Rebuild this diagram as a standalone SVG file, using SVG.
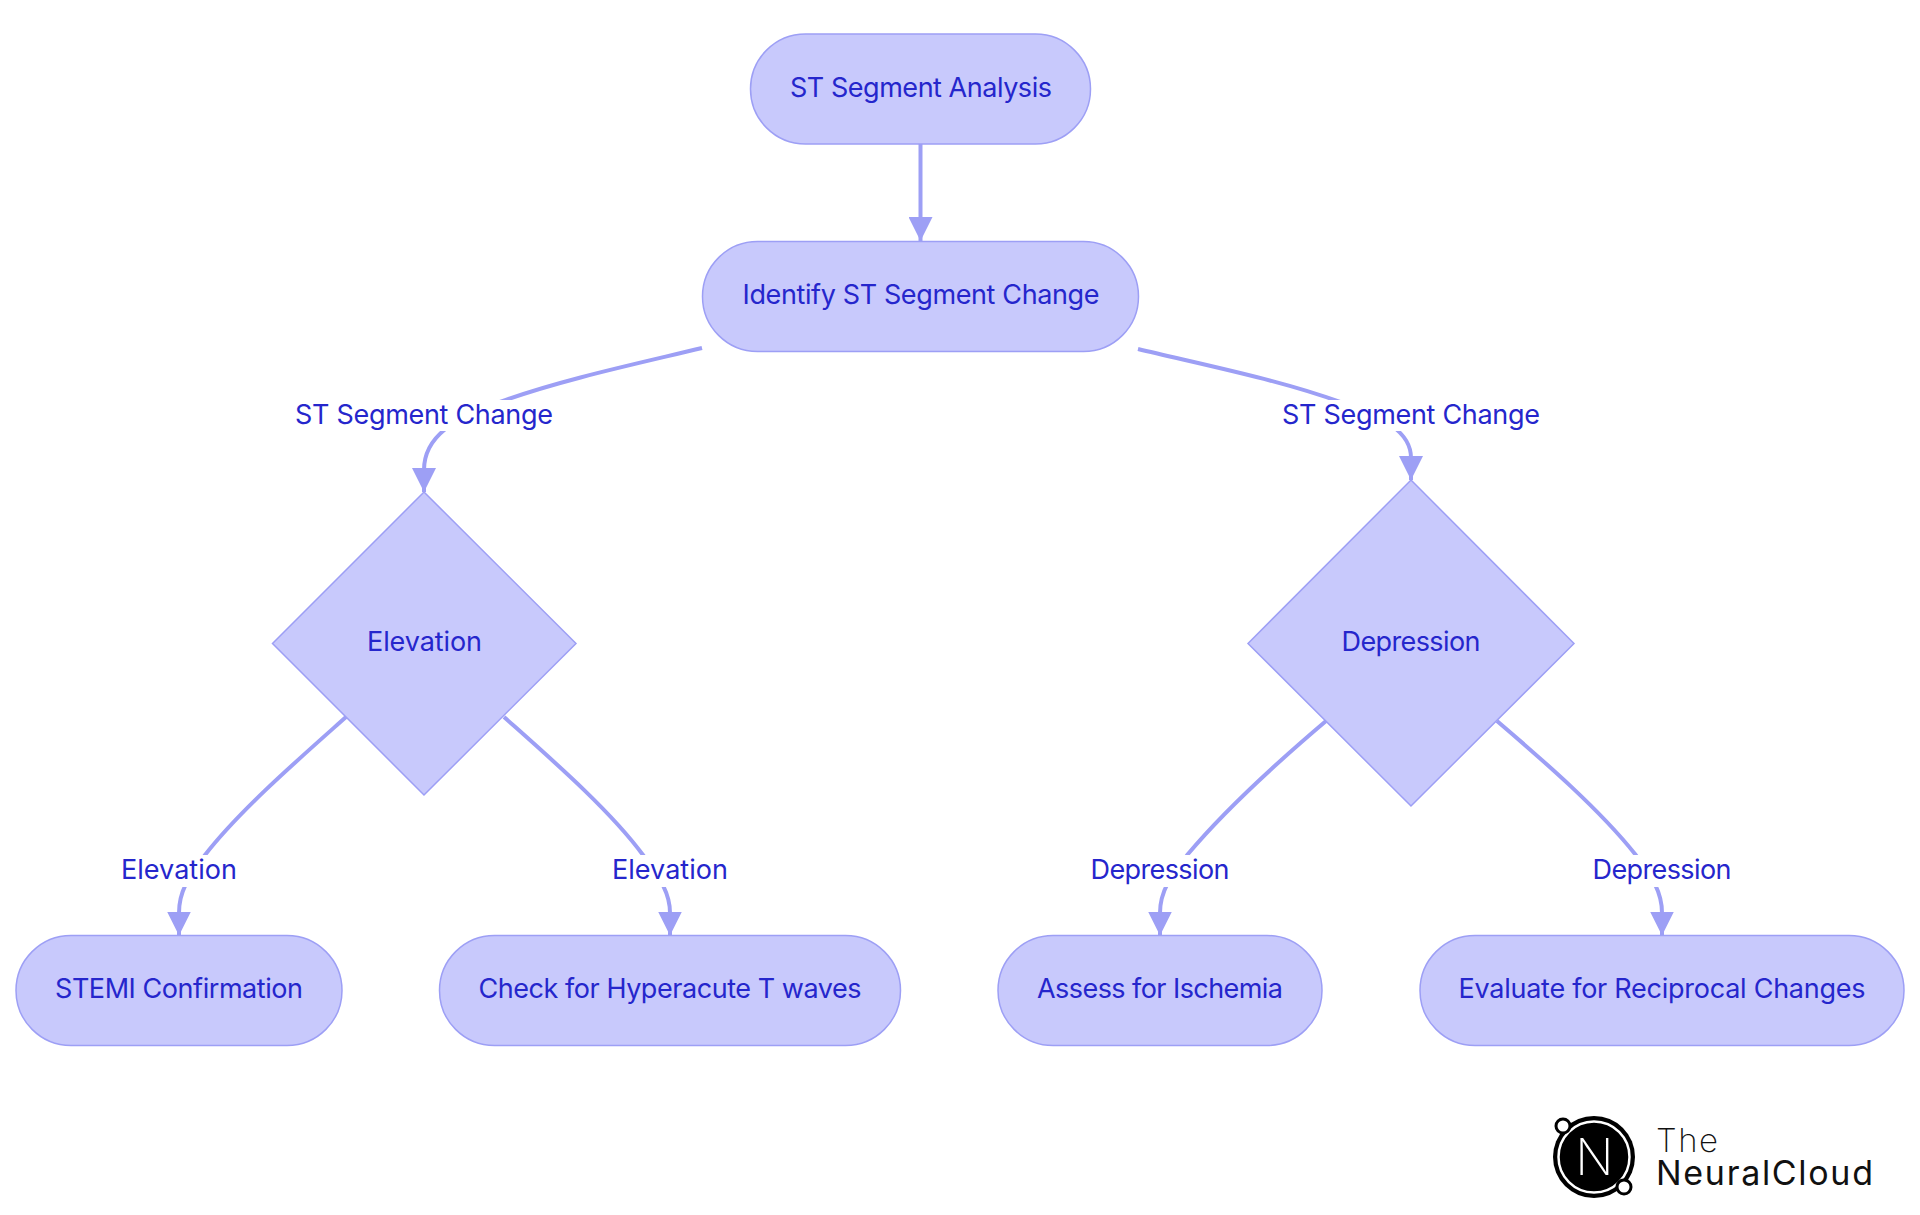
<svg xmlns="http://www.w3.org/2000/svg" width="1920" height="1215" viewBox="0 0 1920 1215">
<style>
.n{fill:#c8c9fc;stroke:#9d9ff5;stroke-width:1.5}
.t{font-family:"Inter","Noto Sans",sans-serif;font-size:27px;fill:#2526cc;text-anchor:middle;font-weight:380}
.e{fill:none;stroke:#9d9ff5;stroke-width:4}
.bg{fill:#fff}
.lg{font-family:"Inter","Lato",sans-serif;fill:#111}
</style>
<defs><marker id="a" markerUnits="userSpaceOnUse" markerWidth="24" markerHeight="24" refX="24" refY="12" orient="auto"><path d="M0,0L24,12L0,24z" fill="#9d9ff5"/></marker></defs>
<rect width="1920" height="1215" fill="#fff"/>
<g id="connectors">
<path class="e" marker-end="url(#a)" d="M920.500,144V241"/>
<path class="e" marker-end="url(#a)" d="M702,348C640,363 560,380 500,402C455,418 424,436 424,470L424,492"/>
<path class="e" marker-end="url(#a)" d="M1138,349C1200,364 1280,380 1340,402C1385,418 1411,432 1411,458L1411,480"/>
<path class="e" marker-end="url(#a)" d="M346,717C300,758 240,810 205,855C190,876 179,890 179,913L179,935.500"/>
<path class="e" marker-end="url(#a)" d="M504,717C550,758 610,810 643,855C656,874 670,890 670,913L670,935.500"/>
<path class="e" marker-end="url(#a)" d="M1326,721C1280,760 1225,810 1188,854C1172,875 1160,890 1160,913L1160,935.500"/>
<path class="e" marker-end="url(#a)" d="M1497,721C1545,762 1600,810 1635,854C1650,875 1662,890 1662,913L1662,935.500"/>
</g>
<g id="edge-labels">
<rect class="bg" x="295" y="400" width="258" height="31"/><text class="t" x="424" y="424" textLength="258">ST Segment Change</text>
<rect class="bg" x="1282" y="400" width="258" height="31"/><text class="t" x="1411" y="424" textLength="258">ST Segment Change</text>
<rect class="bg" x="121" y="855" width="116" height="32"/><text class="t" x="179" y="879" textLength="116">Elevation</text>
<rect class="bg" x="612" y="855" width="116" height="32"/><text class="t" x="670" y="879" textLength="116">Elevation</text>
<rect class="bg" x="1091" y="855" width="139" height="32"/><text class="t" x="1160" y="879" textLength="139">Depression</text>
<rect class="bg" x="1593" y="855" width="139" height="32"/><text class="t" x="1662" y="879" textLength="139">Depression</text>
</g>
<g id="n-root"><rect class="n" x="750.500" y="34" width="340" height="110" rx="55"/><text class="t" x="921" y="97" textLength="262">ST Segment Analysis</text></g>
<g id="n-identify"><rect class="n" x="702.500" y="241.500" width="436" height="110" rx="55"/><text class="t" x="921" y="304" textLength="357">Identify ST Segment Change</text></g>
<g id="n-elevation"><path class="n" d="M424,492L576,643.500L424,795L272.500,643.500z"/><text class="t" x="424.500" y="651" textLength="115">Elevation</text></g>
<g id="n-depression"><path class="n" d="M1411,480L1574,643.500L1411,806L1248,643.500z"/><text class="t" x="1411" y="651" textLength="139">Depression</text></g>
<g id="n-stemi"><rect class="n" x="16" y="935.500" width="326" height="110" rx="55"/><text class="t" x="179" y="998" textLength="248">STEMI Confirmation</text></g>
<g id="n-hyper"><rect class="n" x="439.500" y="935.500" width="461" height="110" rx="55"/><text class="t" x="670" y="998" textLength="383">Check for Hyperacute T waves</text></g>
<g id="n-ischemia"><rect class="n" x="998" y="935.500" width="324" height="110" rx="55"/><text class="t" x="1160" y="998" textLength="246">Assess for Ischemia</text></g>
<g id="n-reciprocal"><rect class="n" x="1420" y="935.500" width="484" height="110" rx="55"/><text class="t" x="1662" y="998" textLength="407">Evaluate for Reciprocal Changes</text></g>
<g id="logo">
<circle cx="1594" cy="1157" r="41" fill="#000"/>
<circle cx="1594" cy="1157" r="35.500" fill="#000" stroke="#fff" stroke-width="2.500"/>
<circle cx="1563" cy="1126" r="7" fill="#fff" stroke="#000" stroke-width="3"/>
<circle cx="1624" cy="1187" r="7" fill="#fff" stroke="#000" stroke-width="3"/>
<text x="1594.500" y="1175" text-anchor="middle" font-family="Inter,sans-serif" font-weight="200" font-size="50" fill="#fff">N</text>
<text class="lg" x="1656" y="1152" font-size="33" font-weight="200" textLength="62">The</text>
<text class="lg" x="1656" y="1185" font-size="34" font-weight="400" textLength="217">NeuralCloud</text>
</g>
</svg>
